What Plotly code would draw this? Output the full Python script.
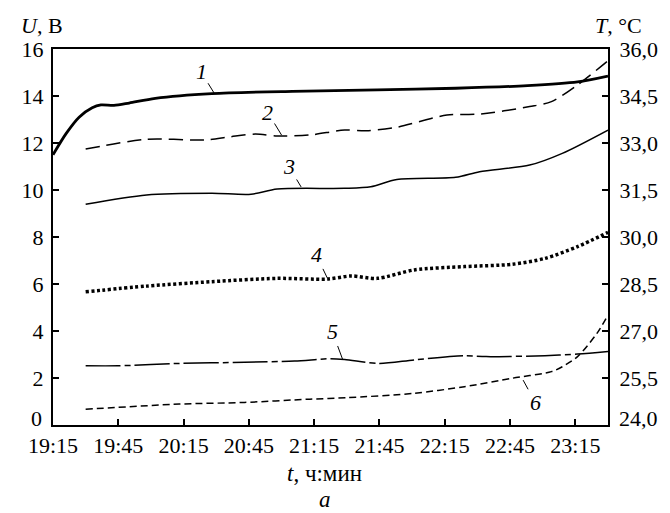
import plotly.graph_objects as go
import pandas as pd

DAY = "2000-01-01 "

# Curve 1 (thick solid)
t1 = ["19:15", "19:21", "19:27", "19:33", "19:37", "19:43", "19:50", "20:02", "20:28",
      "21:05", "21:44", "22:20", "22:53", "23:16", "23:30"]
u1 = [11.5, 12.4, 13.1, 13.5, 13.62, 13.6, 13.7, 13.9, 14.1, 14.2, 14.26, 14.33, 14.44, 14.6, 14.85]

# Curve 2 (long dashes)
t2 = ["19:30", "19:58", "20:25", "20:36", "20:48", "20:58", "21:13", "21:29", "21:39", "21:53",
      "22:16", "22:31", "22:54", "23:04", "23:16", "23:30"]
u2 = [11.74, 12.16, 12.13, 12.26, 12.38, 12.3, 12.34, 12.55, 12.52, 12.67,
      13.19, 13.23, 13.55, 13.76, 14.47, 15.5]

# Curve 3 (thin solid)
t3 = ["19:30", "19:58", "20:28", "20:46", "20:58", "21:29", "21:41", "21:53", "22:20",
      "22:31", "22:54", "23:09", "23:30"]
u3 = [9.39, 9.79, 9.86, 9.82, 10.04, 10.07, 10.14, 10.45, 10.54, 10.78, 11.06, 11.56, 12.55]

# Curve 4 (dotted)
t4 = ["19:30", "19:58", "20:28", "20:58", "21:21", "21:32", "21:44", "22:01", "22:24",
      "22:46", "23:01", "23:16", "23:30"]
u4 = [5.67, 5.91, 6.1, 6.24, 6.21, 6.34, 6.24, 6.6, 6.74, 6.84, 7.09, 7.59, 8.2]

# Curve 5 (dash-dot)
t5 = ["19:30", "19:45", "20:13", "20:43", "21:06", "21:22", "21:29", "21:45", "22:01",
      "22:24", "22:34", "23:01", "23:16", "23:30"]
u5 = [2.52, 2.52, 2.62, 2.67, 2.72, 2.82, 2.79, 2.62, 2.77, 2.95, 2.91, 2.95, 3.02, 3.13]

# Curve 6 (short dashes)
t6 = ["19:30", "20:13", "20:43", "21:13", "21:30", "22:01", "22:24", "22:46", "23:04",
      "23:09", "23:16", "23:25", "23:30"]
u6 = [0.67, 0.89, 0.96, 1.1, 1.16, 1.35, 1.63, 1.99, 2.27, 2.48, 2.91, 3.91, 4.68]

y_left_ticks = [0, 2, 4, 6, 8, 10, 12, 14, 16]
y_left_labels = ["", "2", "4", "6", "8", "10", "12", "14", "16"]   # "0" placed separately (raised)
y_right_ticks = [24.0, 25.5, 27.0, 28.5, 30.0, 31.5, 33.0, 34.5, 36.0]
y_right_labels = ["", "25,5", "27,0", "28,5", "30,0", "31,5", "33,0", "34,5", "36,0"]  # "24,0" raised

# curve labels: (text, time, value, ax, ay)
labels = [("1", "20:29", 14.13, -13, -21),
          ("2", "21:00", 12.34, -14, -23),
          ("3", "21:09", 10.13, -12, -20),
          ("4", "21:21", 6.26, -11, -23),
          ("5", "21:28", 2.81, -10, -27),
          ("6", "22:51", 1.91, 12, 22)]


def tt(lst):
    return pd.to_datetime([DAY + s for s in lst])


FONT = "Liberation Serif"
TF = dict(family=FONT, size=22, color="black")
fig = go.Figure()

styles = [
    (t1, u1, dict(color="black", width=2.8, dash="solid")),
    (t2, u2, dict(color="black", width=1.5, dash="14px,7px")),
    (t3, u3, dict(color="black", width=1.5, dash="solid")),
    (t4, u4, dict(color="black", width=3.5, dash="3px,2.5px")),
    (t5, u5, dict(color="black", width=1.5, dash="35px,4px,6px,4px")),
    (t6, u6, dict(color="black", width=1.5, dash="7px,4px")),
]
for t, u, ln in styles:
    fig.add_trace(go.Scatter(x=tt(t), y=u, mode="lines",
                             line=dict(shape="spline", smoothing=0.8, **ln),
                             showlegend=False, hoverinfo="skip"))

# invisible trace to activate right axis
fig.add_trace(go.Scatter(x=tt(["19:15"]), y=[24.0], yaxis="y2", mode="markers",
                         marker=dict(opacity=0), showlegend=False, hoverinfo="skip"))

for txt, t, v, ax, ay in labels:
    fig.add_annotation(x=pd.Timestamp(DAY + t), y=v, text=f"<i>{txt}</i>",
                       showarrow=True, arrowhead=0, arrowwidth=1, arrowcolor="black",
                       ax=ax, ay=ay, font=TF)

# raised bottom tick labels
fig.add_annotation(xref="paper", yref="y", x=0, y=y_left_ticks[0], xanchor="right",
                   yanchor="middle", xshift=-9, yshift=7, text=str(y_left_ticks[0]),
                   showarrow=False, font=TF)
fig.add_annotation(xref="paper", yref="y2", x=1, y=y_right_ticks[0], xanchor="left",
                   yanchor="middle", xshift=9, yshift=7, text="24,0",
                   showarrow=False, font=TF)

fig.add_annotation(xref="paper", yref="paper", x=-0.02, y=1.062, xanchor="center", yanchor="middle",
                   text="<i>U</i>, В", showarrow=False, font=TF)
fig.add_annotation(xref="paper", yref="paper", x=1.019, y=1.062, xanchor="center", yanchor="middle",
                   text="<i>T</i>, °C", showarrow=False, font=TF)
fig.add_annotation(xref="paper", yref="paper", x=0.49, y=-0.13, xanchor="center", yanchor="middle",
                   text="<i>t</i>, ч:мин", showarrow=False,
                   font=dict(family=FONT, size=23, color="black"))
fig.add_annotation(xref="paper", yref="paper", x=0.49, y=-0.197, xanchor="center", yanchor="middle",
                   text="<i>а</i>", showarrow=False,
                   font=dict(family=FONT, size=23, color="black"))

# the page body has an 8px margin; size the figure so it fits the 670x513 window
fig.update_layout(
    width=662, height=505,
    margin=dict(l=45, r=57, t=41, b=88),
    paper_bgcolor="white", plot_bgcolor="white",
    font=TF,
    xaxis=dict(type="date", range=[DAY + "19:15", DAY + "23:30"],
               tick0=DAY + "19:15", dtick=1800000, tickformat="%H:%M",
               showline=True, linecolor="black", linewidth=2, mirror=True,
               ticks="inside", ticklen=6, tickwidth=1.5, tickcolor="black",
               showgrid=False, zeroline=False, tickfont=TF),
    yaxis=dict(range=[0, 16], tickvals=y_left_ticks, ticktext=y_left_labels,
               showline=True, linecolor="black", linewidth=2,
               ticks="inside", ticklen=6, tickwidth=1.5, tickcolor="black",
               ticklabelstandoff=3,
               showgrid=False, zeroline=False, tickfont=TF),
    yaxis2=dict(range=[24, 36], overlaying="y", side="right",
                tickvals=y_right_ticks, ticktext=y_right_labels,
                showline=True, linecolor="black", linewidth=2,
                ticks="inside", ticklen=6, tickwidth=1.5, tickcolor="black",
                ticklabelstandoff=5,
                showgrid=False, zeroline=False, tickfont=TF),
)

fig.write_html("out.html")
